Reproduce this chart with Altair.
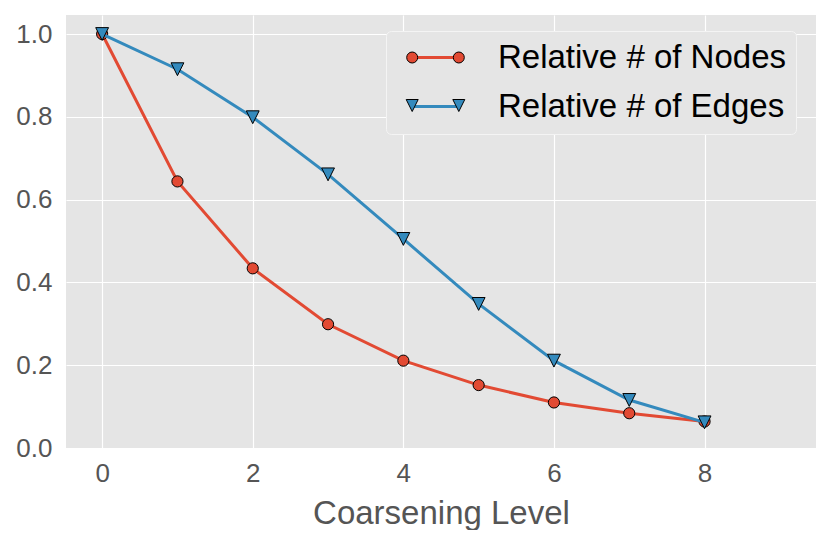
import altair as alt
import pandas as pd

# ---- data ----
levels = [0, 1, 2, 3, 4, 5, 6, 7, 8]
nodes = [1.0, 0.644, 0.434, 0.299, 0.211, 0.152, 0.110, 0.084, 0.064]
edges = [1.0, 0.915, 0.799, 0.661, 0.505, 0.348, 0.211, 0.116, 0.062]
series_names = ["Relative # of Nodes", "Relative # of Edges"]
colors = ["#E24A33", "#348ABD"]
x_ticks = [0, 2, 4, 6, 8]
y_ticks = [0.0, 0.2, 0.4, 0.6, 0.8, 1.0]

FONT = "Liberation Sans"

df = pd.DataFrame({
    "level": levels + levels,
    "value": nodes + edges,
    "series": [series_names[0]] * len(levels) + [series_names[1]] * len(levels),
})


# ---- symbol paths (styles) ----
def fmt(v):
    return f"{v:.3f}"


def circle_path(cx, r):
    k = 0.5523 * r
    return (f"M{fmt(cx - r)},0 C{fmt(cx - r)},{fmt(-k)} {fmt(cx - k)},{fmt(-r)} {fmt(cx)},{fmt(-r)} "
            f"C{fmt(cx + k)},{fmt(-r)} {fmt(cx + r)},{fmt(-k)} {fmt(cx + r)},0 "
            f"C{fmt(cx + r)},{fmt(k)} {fmt(cx + k)},{fmt(r)} {fmt(cx)},{fmt(r)} "
            f"C{fmt(cx - k)},{fmt(r)} {fmt(cx - r)},{fmt(k)} {fmt(cx - r)},0 Z")


def tri_path(cx, r):
    return f"M{fmt(cx)},{fmt(r)} L{fmt(cx - r)},{fmt(-r)} L{fmt(cx + r)},{fmt(-r)} Z"


A = 4.66
LEG_LINE = f"M{-A},0 L{A},0"
LEG_CIRC = circle_path(-A, 1.1) + " " + circle_path(A, 1.1)
LEG_TRI = tri_path(-A, 1.2) + " " + tri_path(A, 1.2)
TRI_DATA = "M0,1 L-1,-1 L1,-1 Z"

LEG_X, LEG_Y = 320, 16
LEG_PAD = 10
LEG_FS = 33
ROW_PAD = 15
ROW_STEP = LEG_FS + ROW_PAD

common = dict(
    title=None, orient="none", legendX=LEG_X, symbolSize=100,
    labelFont=FONT, labelFontSize=LEG_FS, labelLimit=500, labelOffset=47,
    padding=LEG_PAD, rowPadding=ROW_PAD,
)

line_legend = alt.Legend(
    legendY=LEG_Y, values=series_names,
    symbolType=LEG_LINE, symbolStrokeWidth=3, symbolFillColor="transparent",
    symbolOffset=22, labelColor="#000000",
    fillColor="#E5E5E5", strokeColor="#F4F4F4", cornerRadius=5, zindex=1,
    **common,
)
nodes_marker_legend = alt.Legend(
    legendY=LEG_Y, symbolType=LEG_CIRC, symbolStrokeWidth=1,
    symbolStrokeColor="#000000", symbolOffset=23, labelColor="transparent",
    zindex=2, **common,
)
edges_marker_legend = alt.Legend(
    legendY=LEG_Y + ROW_STEP, symbolType=LEG_TRI, symbolStrokeWidth=1,
    symbolFillColor=colors[1], symbolOffset=23, labelColor="transparent",
    zindex=2, **common,
)

x_enc = alt.X("level:Q", scale=alt.Scale(domain=[-0.48, 9.48], nice=False, zero=False),
              axis=alt.Axis(values=x_ticks, format="d", title="Coarsening Level",
                            labelPadding=12, titlePadding=11))
y_enc = alt.Y("value:Q", scale=alt.Scale(domain=[0, 1.046], nice=False),
              axis=alt.Axis(values=y_ticks, format=".1f", title=None, labelPadding=14))

color_scale = alt.Scale(domain=series_names, range=colors)

nodes_base = alt.Chart(df).transform_filter(alt.datum.series == series_names[0])
edges_base = alt.Chart(df).transform_filter(alt.datum.series == series_names[1])

nodes_line = nodes_base.mark_line(strokeWidth=3).encode(
    x=x_enc, y=y_enc,
    color=alt.Color("series:N", scale=color_scale, legend=line_legend),
)
nodes_pts = nodes_base.mark_point(shape="circle", size=125, filled=True,
                                  stroke="#000000", strokeWidth=1, opacity=1).encode(
    x=x_enc, y=y_enc,
    fill=alt.Fill("series:N", scale=alt.Scale(domain=[series_names[0]], range=[colors[0]]),
                  legend=nodes_marker_legend),
)
edges_line = edges_base.mark_line(strokeWidth=3).encode(
    x=x_enc, y=y_enc,
    color=alt.Color("series:N", scale=color_scale, legend=line_legend),
)
edges_pts = edges_base.mark_point(shape=TRI_DATA, size=165, filled=True, fill=colors[1],
                                  strokeWidth=1, opacity=1).encode(
    x=x_enc, y=y_enc,
    stroke=alt.Stroke("series:N", scale=alt.Scale(domain=[series_names[1]], range=["#000000"]),
                      legend=edges_marker_legend),
)

chart = alt.layer(nodes_line, nodes_pts, edges_line, edges_pts).properties(
    width=750, height=433,
    padding={"left": 7, "top": 7, "right": 5, "bottom": 0},
    background="white",
).resolve_scale(fill="independent", stroke="independent").configure_view(
    fill="#E5E5E5", stroke=None
).configure_axis(
    domain=False, ticks=False, tickSize=0, grid=True, gridColor="#FFFFFF", gridWidth=1.2,
    labelColor="#555555", titleColor="#555555", labelFont=FONT, titleFont=FONT,
    labelFontSize=26, titleFontSize=33, titleFontWeight="normal",
).configure_legend(labelFont=FONT)

chart.save("out.html", embed_options={"renderer": "svg", "actions": False})
